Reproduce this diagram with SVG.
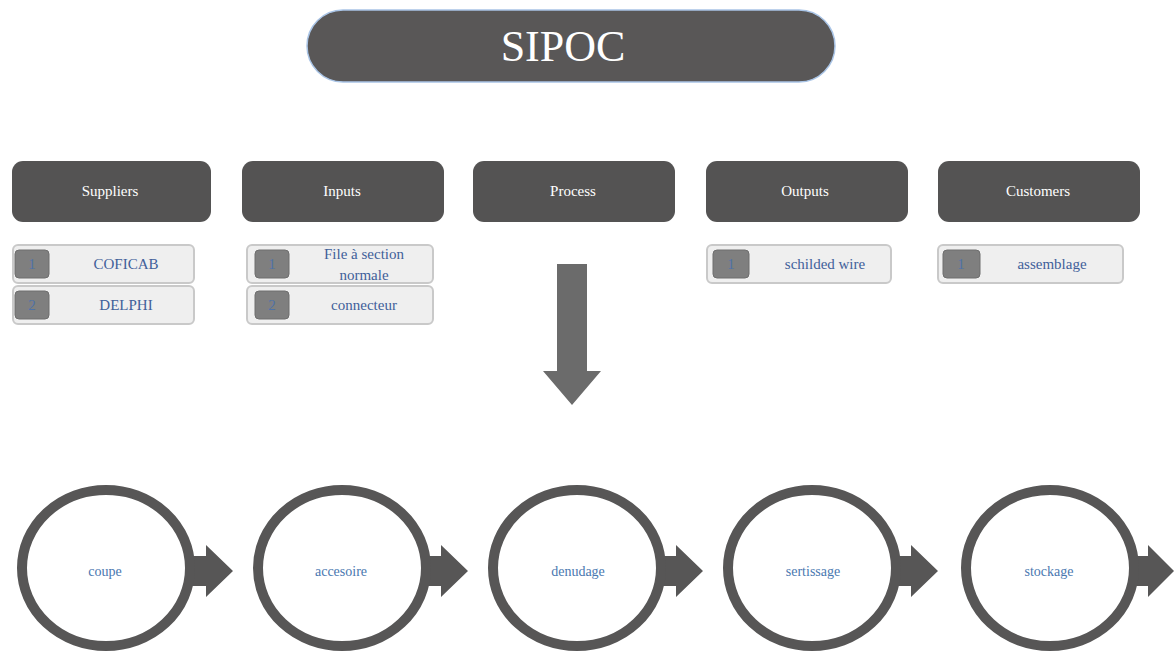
<svg xmlns="http://www.w3.org/2000/svg" width="1174" height="653" viewBox="0 0 1174 653">
  <defs>
    <style>
      .title { fill: #595757; stroke: #a9c4e6; stroke-width: 1.5; }
      .title-text { fill: #ffffff; font-family: "Liberation Serif", serif; font-size: 44px; text-anchor: middle; }
      .head { fill: #545353; }
      .head-text { fill: #ffffff; font-family: "Liberation Serif", serif; font-size: 15px; text-anchor: middle; }
      .item { fill: #efefef; stroke: #c9c9c9; stroke-width: 2; }
      .badge { fill: #7f7f7f; stroke: #6e6e6e; stroke-width: 1; }
      .badge-text { fill: #4f72a6; font-family: "Liberation Serif", serif; font-size: 15px; text-anchor: middle; }
      .item-text { fill: #41609a; font-family: "Liberation Serif", serif; font-size: 15px; text-anchor: middle; }
      .ring { fill: #ffffff; stroke: #575656; stroke-width: 10; }
      .step-text { fill: #4a78b0; font-family: "Liberation Serif", serif; font-size: 14px; text-anchor: middle; }
      .flow { fill: #575656; }
      .down { fill: #6b6b6b; }
    </style>
  </defs>

  <!-- title banner -->
  <g id="title">
    <rect class="title" x="307" y="10" width="528" height="72" rx="36"/>
    <text class="title-text" x="563" y="61">SIPOC</text>
  </g>

  <!-- column headers -->
  <g id="head-suppliers"><rect class="head" x="12" y="161" width="199" height="61" rx="11"/><text class="head-text" x="110" y="196">Suppliers</text></g>
  <g id="head-inputs"><rect class="head" x="242" y="161" width="202" height="61" rx="11"/><text class="head-text" x="342" y="196">Inputs</text></g>
  <g id="head-process"><rect class="head" x="473" y="161" width="202" height="61" rx="11"/><text class="head-text" x="573" y="196">Process</text></g>
  <g id="head-outputs"><rect class="head" x="706" y="161" width="202" height="61" rx="11"/><text class="head-text" x="805" y="196">Outputs</text></g>
  <g id="head-customers"><rect class="head" x="938" y="161" width="202" height="61" rx="11"/><text class="head-text" x="1038" y="196">Customers</text></g>

  <!-- list items -->
  <g id="sup-1">
    <rect class="item" x="13" y="245" width="181" height="38" rx="5"/>
    <rect class="badge" x="15" y="250" width="34" height="28" rx="4"/>
    <text class="badge-text" x="32" y="269">1</text>
    <text class="item-text" x="126" y="269">COFICAB</text>
  </g>
  <g id="sup-2">
    <rect class="item" x="13" y="286" width="181" height="38" rx="5"/>
    <rect class="badge" x="15" y="291" width="34" height="28" rx="4"/>
    <text class="badge-text" x="32" y="310">2</text>
    <text class="item-text" x="126" y="310">DELPHI</text>
  </g>
  <g id="in-1">
    <rect class="item" x="247" y="245" width="186" height="38" rx="5"/>
    <rect class="badge" x="255" y="250" width="34" height="28" rx="4"/>
    <text class="badge-text" x="272" y="269">1</text>
    <text class="item-text" x="364" y="259">File à section</text>
    <text class="item-text" x="364" y="280">normale</text>
  </g>
  <g id="in-2">
    <rect class="item" x="247" y="286" width="186" height="38" rx="5"/>
    <rect class="badge" x="255" y="291" width="34" height="28" rx="4"/>
    <text class="badge-text" x="272" y="310">2</text>
    <text class="item-text" x="364" y="310">connecteur</text>
  </g>
  <g id="out-1">
    <rect class="item" x="707" y="245" width="184" height="38" rx="5"/>
    <rect class="badge" x="713" y="250" width="36" height="28" rx="4"/>
    <text class="badge-text" x="731" y="269">1</text>
    <text class="item-text" x="825" y="269">schilded wire</text>
  </g>
  <g id="cust-1">
    <rect class="item" x="938" y="245" width="185" height="38" rx="5"/>
    <rect class="badge" x="943" y="250" width="37" height="28" rx="4"/>
    <text class="badge-text" x="961" y="269">1</text>
    <text class="item-text" x="1052" y="269">assemblage</text>
  </g>

  <!-- process steps -->
  <g id="steps">
    <g id="step-coupe">
      <path class="flow" d="M186 556 H206 V545 L233 571 L206 597 V586 H186 Z"/>
      <ellipse class="ring" cx="106" cy="568" rx="84" ry="78"/>
      <text class="step-text" x="105" y="576">coupe</text>
    </g>
    <g id="step-accesoire">
      <path class="flow" d="M421 556 H441 V545 L468 571 L441 597 V586 H421 Z"/>
      <ellipse class="ring" cx="342" cy="568" rx="84" ry="78"/>
      <text class="step-text" x="341" y="576">accesoire</text>
    </g>
    <g id="step-denudage">
      <path class="flow" d="M656 556 H676 V545 L703 571 L676 597 V586 H656 Z"/>
      <ellipse class="ring" cx="577" cy="568" rx="84" ry="78"/>
      <text class="step-text" x="578" y="576">denudage</text>
    </g>
    <g id="step-sertissage">
      <path class="flow" d="M891 556 H911 V545 L938 571 L911 597 V586 H891 Z"/>
      <ellipse class="ring" cx="812" cy="568" rx="84" ry="78"/>
      <text class="step-text" x="813" y="576">sertissage</text>
    </g>
    <g id="step-stockage">
      <path class="flow" d="M1128 556 H1148 V545 L1174 571 L1148 597 V586 H1128 Z"/>
      <ellipse class="ring" cx="1050" cy="568" rx="84" ry="78"/>
      <text class="step-text" x="1049" y="576">stockage</text>
    </g>
  </g>

  <!-- connector from header row down to the process chain -->
  <g id="connectors">
    <path class="down" d="M557 264 H587 V371 H601 L572 405 L543 371 H557 Z"/>
  </g>
</svg>
